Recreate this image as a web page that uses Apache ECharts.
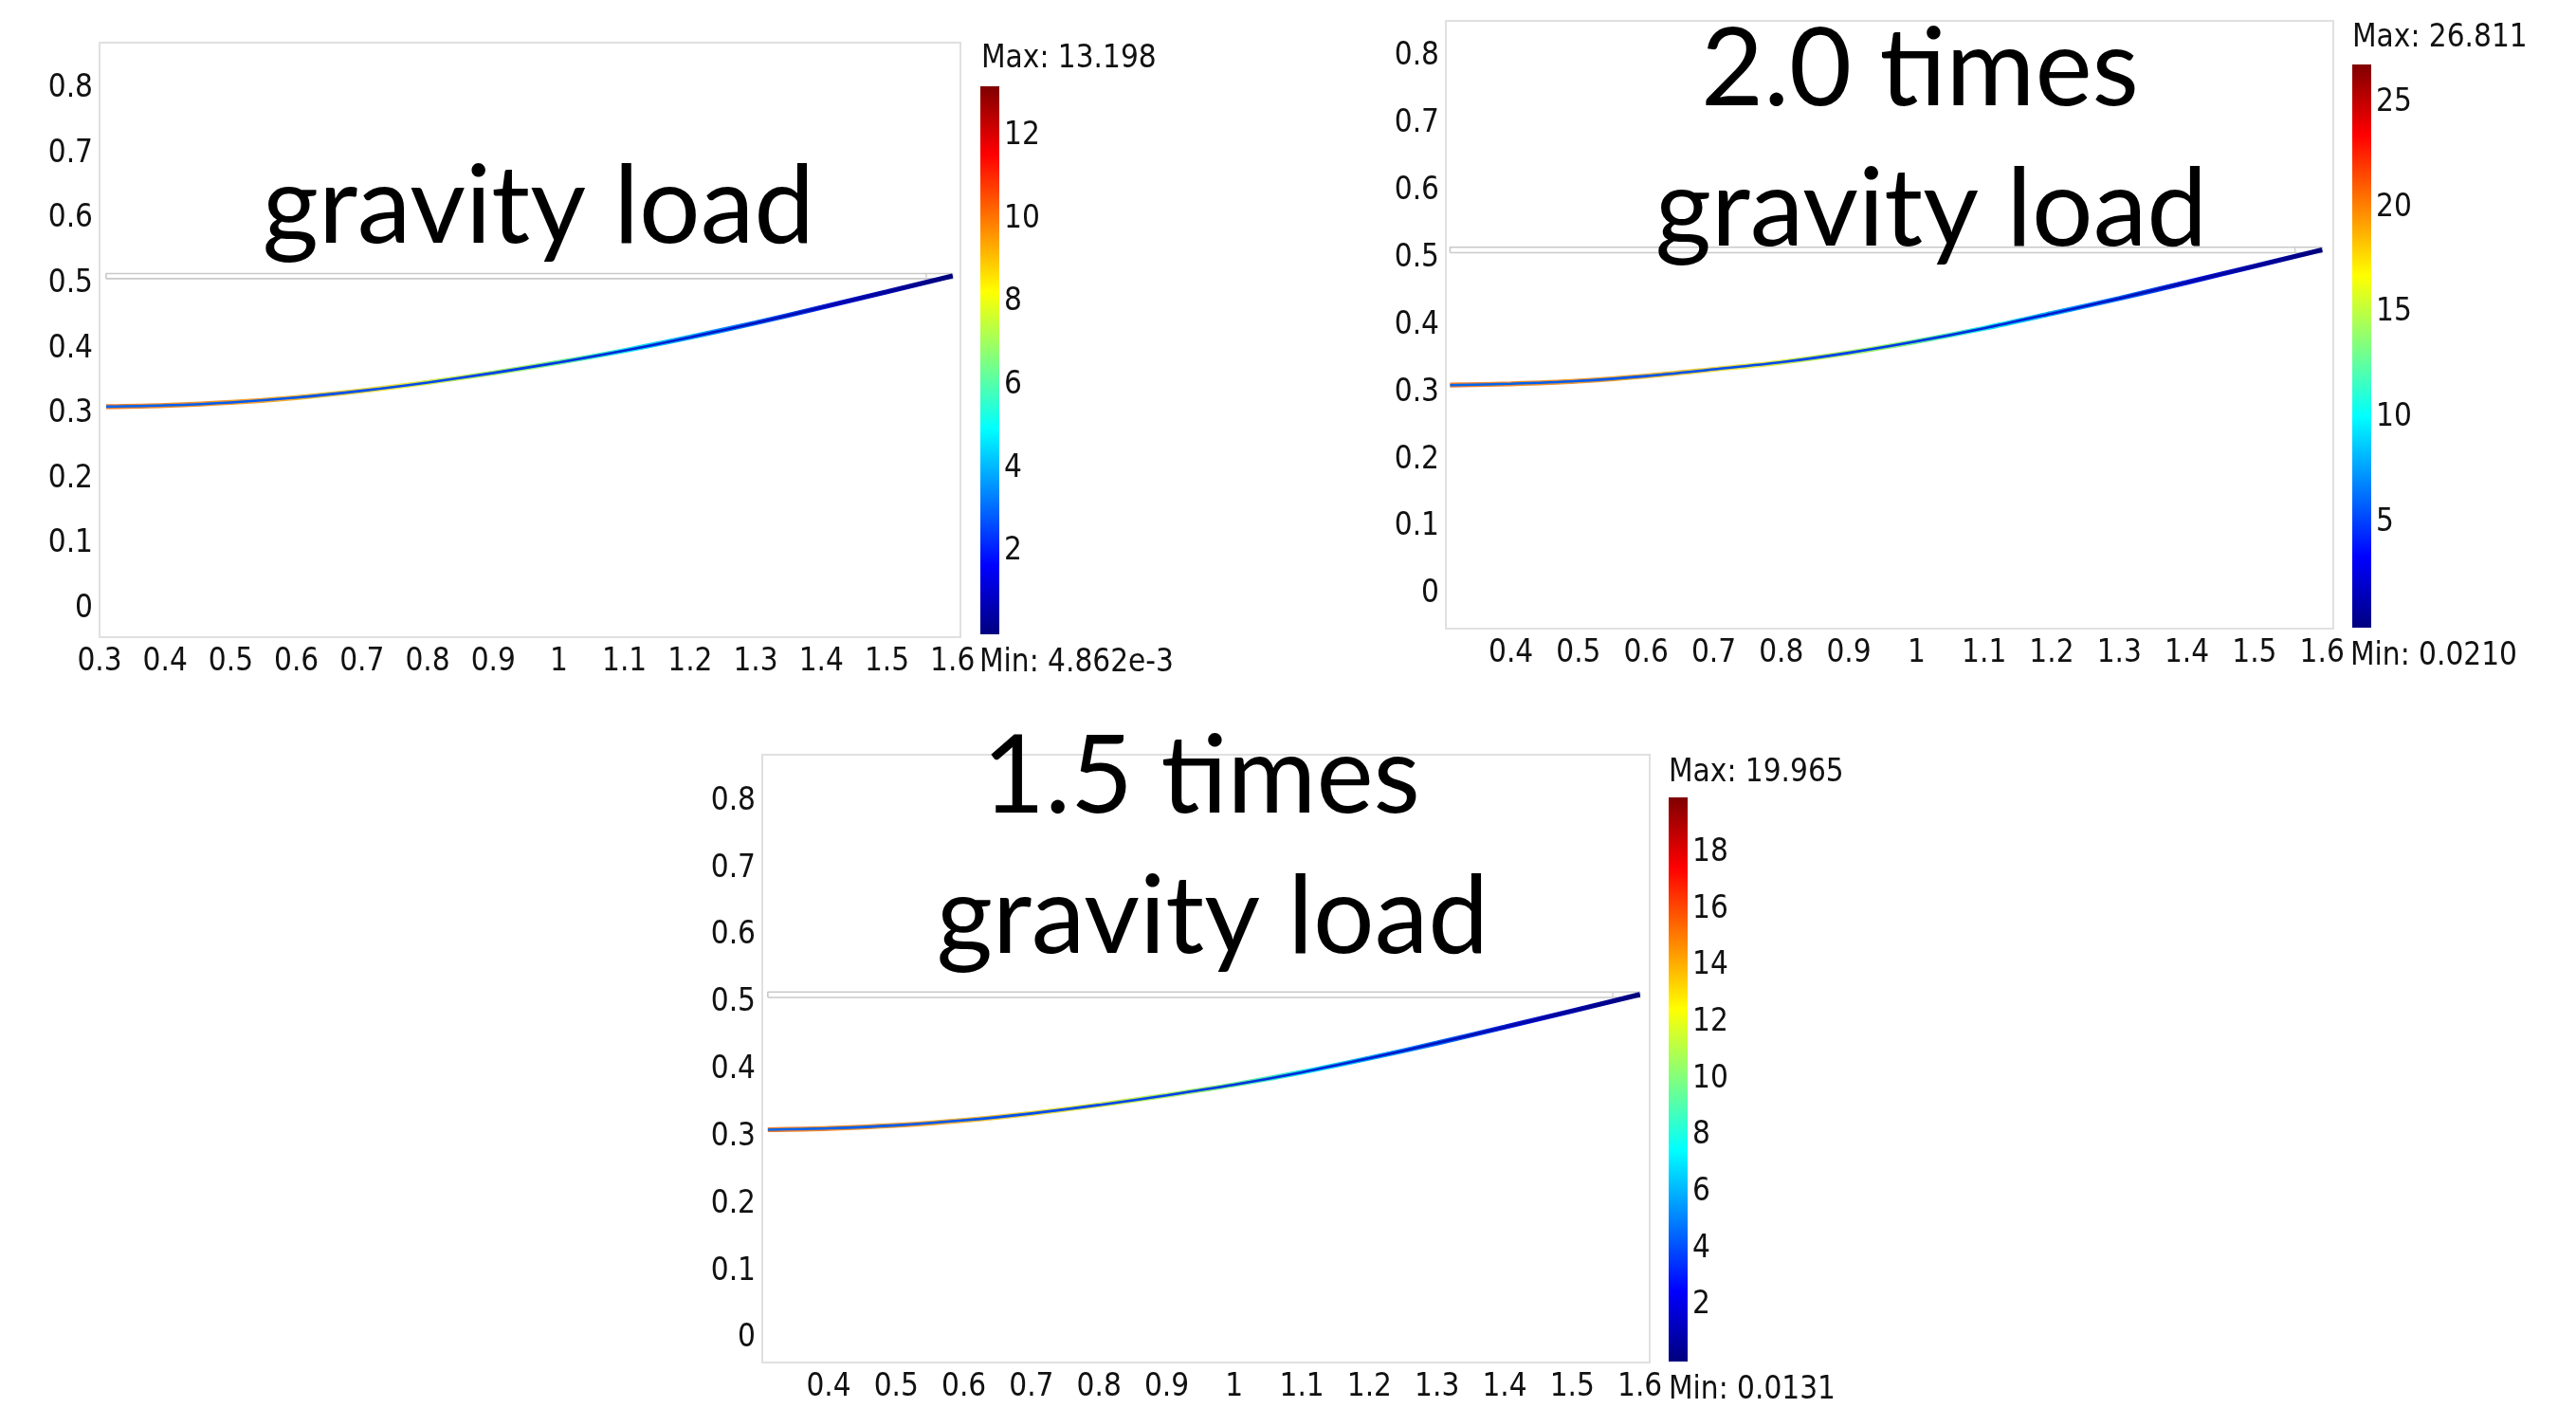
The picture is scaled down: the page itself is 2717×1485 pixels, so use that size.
<!DOCTYPE html>
<html>
<head>
<meta charset="utf-8">
<script src="https://cdn.jsdelivr.net/npm/echarts@6/dist/echarts.min.js"></script>
<style>
html,body{margin:0;padding:0;background:#ffffff;}
#chart{width:2717px;height:1485px;}
</style>
</head>
<body>
<div id="chart"></div>
<script>
// ---------------- data ----------------
// axial positions along the beam and deformed centre-line height per load case
const beamX      = [0.31, 0.4, 0.5, 0.6, 0.7, 0.8, 0.9, 1.0, 1.1, 1.2, 1.3, 1.4, 1.5, 1.6];
const yGravity   = [0.311, 0.313, 0.3175, 0.325, 0.3355, 0.3482, 0.3629, 0.3792, 0.3974, 0.4179, 0.4401, 0.4637, 0.4879, 0.5123];
const yGravity20 = [0.311, 0.313, 0.3172, 0.3245, 0.3345, 0.3450, 0.3590, 0.3760, 0.3955, 0.4175, 0.4400, 0.4637, 0.4879, 0.5123];
const yGravity15 = [0.311, 0.313, 0.3175, 0.325, 0.3352, 0.3478, 0.3622, 0.3780, 0.3965, 0.4175, 0.4400, 0.4637, 0.4879, 0.5123];

// undeformed beam outline (light grey rectangle) and its joint line
const outlineX = [0.31, 1.6, 1.6, 0.31, 0.31];
const outlineY = [0.508, 0.508, 0.516, 0.516, 0.508];
const jointX   = [1.56, 1.56];
const jointY   = [0.508, 0.516];

// colour-bar ranges and ticks
const stressMin    = [0.004862, 0.0210, 0.0131];
const stressMax    = [13.198, 26.811, 19.965];
const stressTicks1 = [2, 4, 6, 8, 10, 12];
const stressTicks2 = [5, 10, 15, 20, 25];
const stressTicks3 = [2, 4, 6, 8, 10, 12, 14, 16, 18];
const maxLabels = ['Max: 13.198', 'Max: 26.811', 'Max: 19.965'];
const minLabels = ['Min: 4.862e-3', 'Min: 0.0210', 'Min: 0.0131'];

// axis tick labels
const xTicks1  = [0.3, 0.4, 0.5, 0.6, 0.7, 0.8, 0.9, 1.0, 1.1, 1.2, 1.3, 1.4, 1.5, 1.6];
const xTicks23 = [0.4, 0.5, 0.6, 0.7, 0.8, 0.9, 1.0, 1.1, 1.2, 1.3, 1.4, 1.5, 1.6];
const yTicks   = [0, 0.1, 0.2, 0.3, 0.4, 0.5, 0.6, 0.7, 0.8];

// panel titles (one entry per line)
const titleLines = [['gravity load'], ['2.0 times', 'gravity load'], ['1.5 times', 'gravity load']];

// ---------------- layout / style ----------------
const LABEL_FONT = '"DejaVu Sans Condensed", "DejaVu Sans", sans-serif';
const TITLE_FONT = 'Lato, "Open Sans", sans-serif';
const FS = 33;

const panels = [
  { grid:{left:105, top:45, width:908, height:627}, xr:[0.3, 1.612], yr:[-0.0437, 0.8712],
    cbar:{left:1034, top:91, width:20, height:578}, xTicks:xTicks1, sTicks:stressTicks1, y:yGravity,
    titles:[{x:568, y:219}], maxPos:{x:1035, y:62}, minPos:{x:1033, y:699} },
  { grid:{left:1525, top:22, width:936, height:641}, xr:[0.3038, 1.6166], yr:[-0.051, 0.8526],
    cbar:{left:2481, top:68, width:20, height:594}, xTicks:xTicks23, sTicks:stressTicks2, y:yGravity20,
    titles:[{x:2025, y:74}, {x:2037, y:222}], maxPos:{x:2481, y:40}, minPos:{x:2479, y:692} },
  { grid:{left:804, top:796, width:936, height:641}, xr:[0.3018, 1.6146], yr:[-0.0356, 0.8693],
    cbar:{left:1760, top:841, width:20, height:595}, xTicks:xTicks23, sTicks:stressTicks3, y:yGravity15,
    titles:[{x:1267, y:820}, {x:1279, y:968}], maxPos:{x:1760, y:815}, minPos:{x:1760, y:1466} }
];

const jetStops = [
  {offset:0, color:'#00007f'}, {offset:0.125, color:'#0000ff'}, {offset:0.375, color:'#00ffff'},
  {offset:0.625, color:'#ffff00'}, {offset:0.875, color:'#ff0000'}, {offset:1, color:'#800000'}
];

const edgeGradient = () => new echarts.graphic.LinearGradient(0, 0, 1, 0, [
  {offset:0, color:'#f07a2a'}, {offset:0.18, color:'#f0a030'}, {offset:0.35, color:'#e6e640'},
  {offset:0.5, color:'#90f070'}, {offset:0.62, color:'#10e0f0'}, {offset:0.74, color:'#0080ff'},
  {offset:0.86, color:'#0010d8'}, {offset:1, color:'#00007a'}
]);
const coreGradient = () => new echarts.graphic.LinearGradient(0, 0, 1, 0, [
  {offset:0, color:'#0068f0'}, {offset:0.45, color:'#0040f0'}, {offset:0.7, color:'#0018d0'},
  {offset:0.86, color:'#0006a8'}, {offset:1, color:'#00007a'}
]);

const grids = [], xAxes = [], yAxes = [], series = [], graphics = [];
const fmt1 = v => String(Math.round(v * 10) / 10);

panels.forEach((p, i) => {
  // main plot
  grids.push(Object.assign({show:true, borderColor:'#e0e0e0', borderWidth:2, backgroundColor:'#fff',
    containLabel:false, outerBoundsMode:'none'}, p.grid));
  const gi = grids.length - 1;
  xAxes.push({gridIndex:gi, type:'value', min:p.xr[0], max:p.xr[1],
    axisLine:{show:false}, axisTick:{show:false}, splitLine:{show:false},
    axisLabel:{customValues:p.xTicks, formatter:fmt1, color:'#111', fontSize:FS, fontFamily:LABEL_FONT, margin:10}});
  yAxes.push({gridIndex:gi, type:'value', min:p.yr[0], max:p.yr[1],
    axisLine:{show:false}, axisTick:{show:false}, splitLine:{show:false},
    axisLabel:{customValues:yTicks, formatter:fmt1, color:'#111', fontSize:FS, fontFamily:LABEL_FONT, margin:7}});
  const ai = xAxes.length - 1;

  series.push({type:'line', xAxisIndex:ai, yAxisIndex:ai, data:outlineX.map((x, k) => [x, outlineY[k]]),
    symbol:'none', lineStyle:{color:'#c9c9c9', width:1.6}, silent:true, z:2});
  series.push({type:'line', xAxisIndex:ai, yAxisIndex:ai, data:jointX.map((x, k) => [x, jointY[k]]),
    symbol:'none', lineStyle:{color:'#c9c9c9', width:1.2}, silent:true, z:2});
  const curve = beamX.map((x, k) => [x, p.y[k]]);
  series.push({type:'line', xAxisIndex:ai, yAxisIndex:ai, data:curve, smooth:0.3, symbol:'none',
    lineStyle:{color:edgeGradient(), width:5.2, cap:'butt'}, silent:true, z:3});
  series.push({type:'line', xAxisIndex:ai, yAxisIndex:ai, data:curve, smooth:0.3, symbol:'none',
    lineStyle:{color:coreGradient(), width:2.6, cap:'butt'}, silent:true, z:4});

  // colour bar
  grids.push(Object.assign({show:false, containLabel:false, outerBoundsMode:'none'}, p.cbar));
  const ci = grids.length - 1;
  xAxes.push({gridIndex:ci, type:'category', data:['stress'], show:false});
  yAxes.push({gridIndex:ci, type:'value', position:'right', min:stressMin[i], max:stressMax[i],
    axisLine:{show:false}, axisTick:{show:false}, splitLine:{show:false},
    axisLabel:{customValues:p.sTicks, color:'#111', fontSize:FS, fontFamily:LABEL_FONT, margin:5}});
  const bi = xAxes.length - 1;
  series.push({type:'bar', xAxisIndex:bi, yAxisIndex:bi, stack:'cb' + i, data:[stressMin[i]],
    barWidth:'100%', itemStyle:{color:'rgba(0,0,0,0)'}, silent:true});
  series.push({type:'bar', xAxisIndex:bi, yAxisIndex:bi, stack:'cb' + i, data:[stressMax[i] - stressMin[i]],
    barWidth:'100%', itemStyle:{color:new echarts.graphic.LinearGradient(0, 1, 0, 0, jetStops)}, silent:true});

  // texts
  p.titles.forEach((t, k) => {
    graphics.push({type:'text', x:t.x, y:t.y, z:10, silent:true,
      style:{text:titleLines[i][k], fill:'#000', fontSize:114, fontFamily:TITLE_FONT,
             align:'center', verticalAlign:'middle'}});
  });
  graphics.push({type:'text', x:p.maxPos.x, y:p.maxPos.y, silent:true,
    style:{text:maxLabels[i], fill:'#111', fontSize:FS, fontFamily:LABEL_FONT, align:'left', verticalAlign:'middle'}});
  graphics.push({type:'text', x:p.minPos.x, y:p.minPos.y, silent:true,
    style:{text:minLabels[i], fill:'#111', fontSize:FS, fontFamily:LABEL_FONT, align:'left', verticalAlign:'middle'}});
});

const chart = echarts.init(document.getElementById('chart'), null, {renderer:'canvas'});
chart.setOption({
  animation:false,
  backgroundColor:'#ffffff',
  grid:grids, xAxis:xAxes, yAxis:yAxes, series:series, graphic:graphics
});
</script>
</body>
</html>
